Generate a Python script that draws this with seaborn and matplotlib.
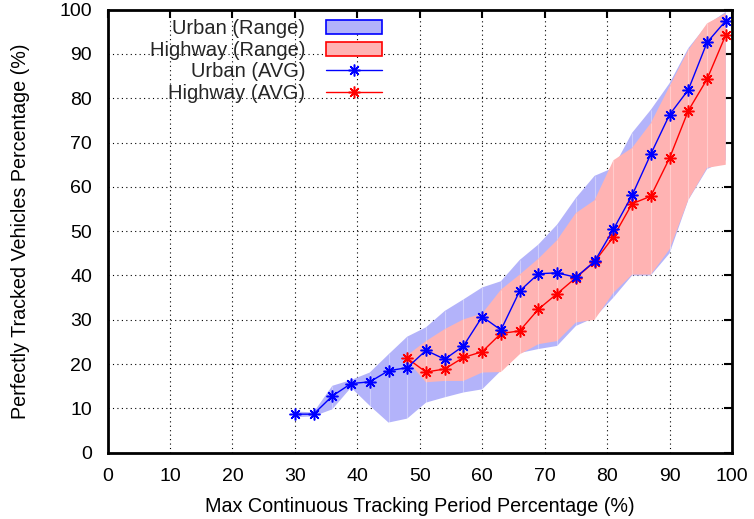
import matplotlib
matplotlib.use("Agg")
import matplotlib.pyplot as plt
import seaborn as sns
import numpy as np
import pandas as pd
from matplotlib.patches import Patch
from matplotlib.lines import Line2D

# ---------------- data ----------------
urban_x = [30, 33, 36, 39, 42, 45, 48, 51, 54, 57, 60, 63, 66, 69, 72, 75, 78, 81, 84, 87, 90, 93, 96, 99]
urban_avg = [8.7, 8.7, 12.8, 15.6, 16.0, 18.5, 19.2, 23.1, 21.1, 24.1, 30.7, 27.7,
             36.5, 40.4, 40.6, 39.6, 43.2, 50.4, 58.1, 67.4, 76.3, 81.9, 92.6, 97.5]
urban_hi = [9.3, 9.1, 15.1, 16.4, 18.1, 22.2, 26.2, 28.3, 32.0, 34.6, 37.3, 38.7,
            43.5, 47.0, 51.5, 57.5, 62.5, 64.3, 72.2, 77.4, 83.4, 91.3, 96.6, 99.5]
urban_lo = [8.0, 8.2, 9.8, 14.7, 10.6, 6.8, 7.7, 11.3, 12.5, 13.6, 14.3, 18.5,
            22.5, 23.4, 24.1, 28.6, 30.5, 35.0, 40.0, 40.0, 45.0, 57.0, 64.0, 66.0]

highway_x = [48, 51, 54, 57, 60, 63, 66, 69, 72, 75, 78, 81, 84, 87, 90, 93, 96, 99]
highway_avg = [21.3, 18.2, 18.9, 21.5, 22.8, 26.9, 27.5, 32.4, 35.9, 39.5, 43.1, 48.7,
               56.2, 57.9, 66.5, 77.2, 84.3, 94.3]
highway_hi = [22.0, 25.2, 27.9, 30.1, 31.4, 36.8, 40.2, 43.8, 48.0, 54.1, 57.0, 66.0,
              68.8, 74.4, 82.7, 90.9, 96.9, 99.2]
highway_lo = [20.8, 15.9, 16.2, 16.2, 18.1, 18.2, 22.2, 24.5, 25.2, 29.4, 30.0, 36.1,
              40.2, 40.2, 45.9, 57.1, 64.3, 65.0]

x_ticks = [0, 10, 20, 30, 40, 50, 60, 70, 80, 90, 100]
y_ticks = [0, 10, 20, 30, 40, 50, 60, 70, 80, 90, 100]

# ---------------- style ----------------
sns.set_theme(style="white")
plt.rcParams['font.family'] = ['Liberation Sans', 'DejaVu Sans']

fig = plt.figure(figsize=(7.54, 5.19), dpi=100)
ax = fig.add_axes([107.5 / 754, 1 - 452.7 / 519, (732 - 107.5) / 754, (452.7 - 9.7) / 519])

blue_fill = '#b3b3fa'
red_fill = '#ffb3b3'

ax.fill_between(urban_x, urban_lo, urban_hi, facecolor=blue_fill, edgecolor='none',
                label='Urban (Range)', zorder=2)
ax.vlines(urban_x[1:-1], urban_lo[1:-1], urban_hi[1:-1], colors='white', alpha=0.35,
          linewidth=0.8, zorder=2.1)
ax.fill_between(highway_x, highway_lo, highway_hi, facecolor=red_fill, edgecolor='none',
                label='Highway (Range)', zorder=2.2)
ax.vlines(highway_x[1:-1], highway_lo[1:-1], highway_hi[1:-1], colors='white', alpha=0.35,
          linewidth=0.8, zorder=2.3)

df_u = pd.DataFrame({'x': urban_x, 'y': urban_avg})
df_h = pd.DataFrame({'x': highway_x, 'y': highway_avg})
star = (8, 2, 0)
sns.lineplot(data=df_u, x='x', y='y', ax=ax, color='#0000ff', lw=1.0, marker=star,
             markersize=8.5, markeredgewidth=1.1, markeredgecolor='#0000ff',
             label='Urban (AVG)', zorder=4)
sns.lineplot(data=df_h, x='x', y='y', ax=ax, color='#ff0000', lw=1.0, marker=star,
             markersize=8.5, markeredgewidth=1.1, markeredgecolor='#ff0000',
             label='Highway (AVG)', zorder=3)

ax.set_xlim(0, 100)
ax.set_ylim(0, 100)
ax.set_xticks(x_ticks)
ax.set_yticks(y_ticks)
ax.set_xticklabels([str(v) for v in x_ticks])
ax.set_yticklabels([str(v) for v in y_ticks])

ax.grid(True, color='black', linestyle=(0, (1, 3)), linewidth=0.8, zorder=1)
ax.set_axisbelow(True)
for s in ax.spines.values():
    s.set_color('black')
    s.set_linewidth(2.0)
    s.set_zorder(6)
ax.tick_params(axis='both', which='major', direction='in', length=6, width=1.5,
               colors='black', labelsize=14, top=True, right=True, pad=11,
               labelcolor='black')

ax.set_xlabel('Max Continuous Tracking Period Percentage (%)', fontsize=14.2, labelpad=9,
              color='black')
ax.set_ylabel('Perfectly Tracked Vehicles Percentage (%)', fontsize=14.2, labelpad=21,
              color='black')

# legend in gnuplot style: text right-aligned, samples on the right
handles = [
    Patch(facecolor=blue_fill, edgecolor='#0000ff', linewidth=1.2),
    Patch(facecolor=red_fill, edgecolor='#ff0000', linewidth=1.2),
    Line2D([], [], color='#0000ff', lw=1.0, marker=star, markersize=8.5, markeredgewidth=1.1),
    Line2D([], [], color='#ff0000', lw=1.0, marker=star, markersize=8.5, markeredgewidth=1.1),
]
labels = ['Urban (Range)', 'Highway (Range)', 'Urban (AVG)', 'Highway (AVG)']
ax.legend(handles, labels, loc='upper right', bbox_to_anchor=(0.4395, 0.978),
          frameon=False, markerfirst=False, fontsize=14.5, handlelength=2.8,
          handletextpad=1.0, labelspacing=0.12, borderpad=0, borderaxespad=0)

fig.savefig('out.png', dpi=100)
